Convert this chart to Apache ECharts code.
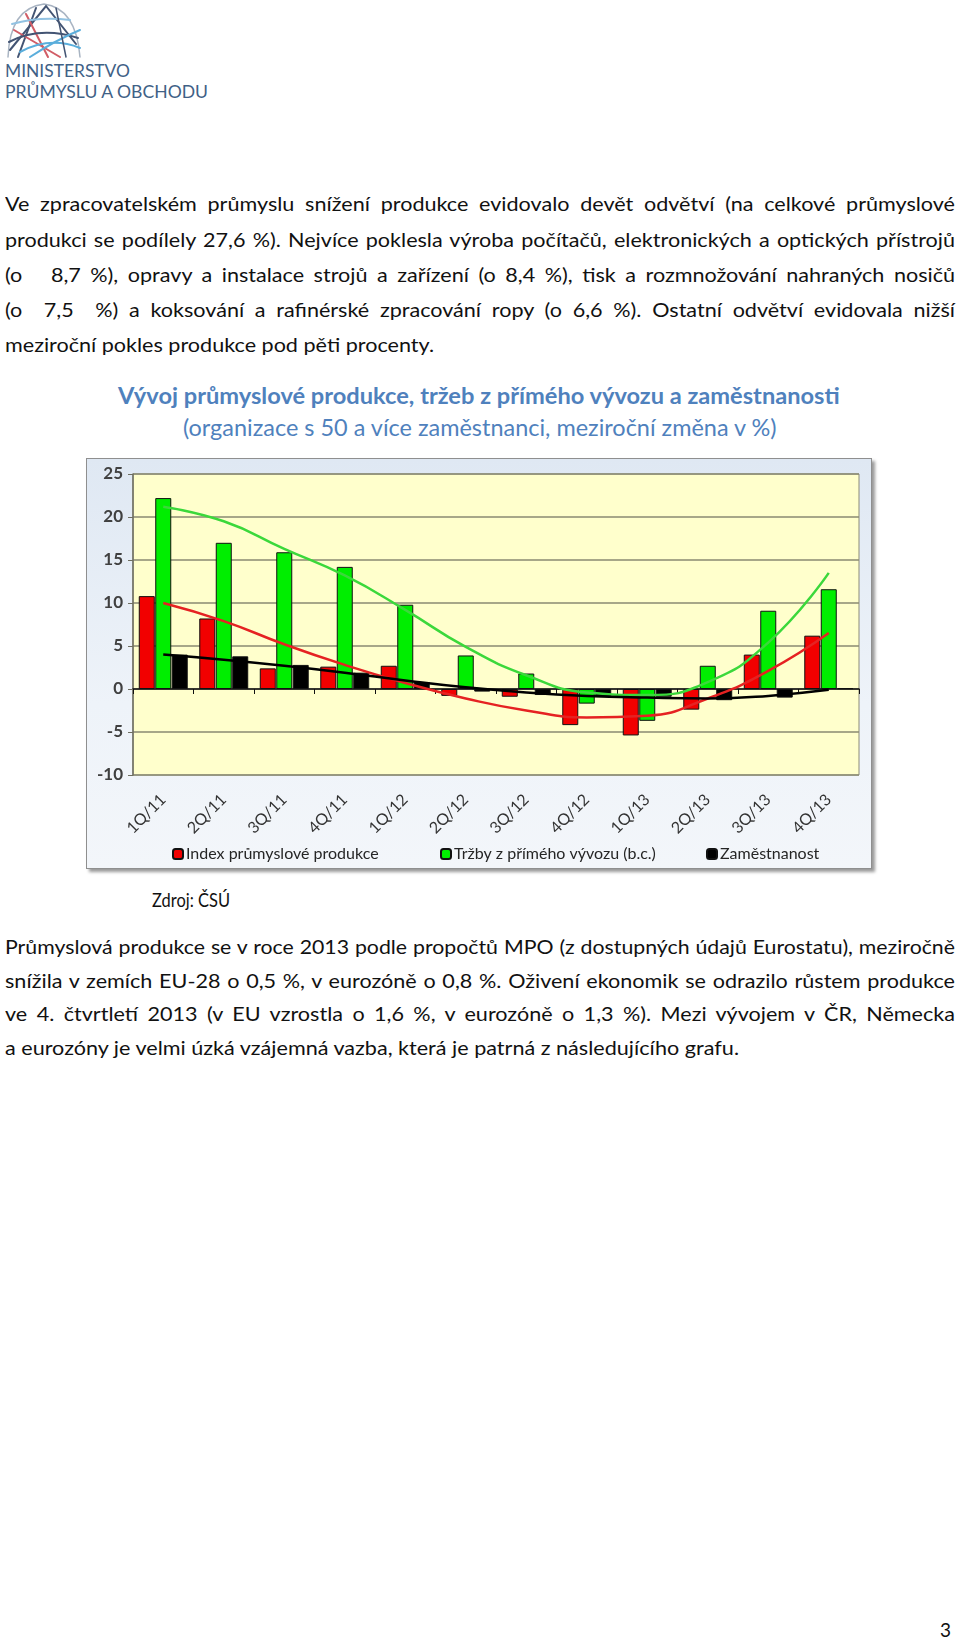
<!DOCTYPE html>
<html><head><meta charset="utf-8">
<script src="https://cdn.jsdelivr.net/npm/echarts@6/dist/echarts.min.js"></script>
<style>
body{margin:0;background:#fff;width:960px;height:1641px;position:relative;font-family:'Lato',sans-serif;color:#111;overflow:hidden;}
.ln{position:absolute;left:5px;white-space:nowrap;font-size:19px;line-height:24px;height:24px;transform-origin:0 50%;}
.j{width:950px;text-align:justify;text-align-last:justify;}
.title{position:absolute;white-space:nowrap;color:#4F81BD;font-family:'Lato',sans-serif;line-height:30px;}
#chartBox{position:absolute;left:86px;top:458px;width:786px;height:411px;border:1px solid #8f8f8f;box-sizing:border-box;
 background:linear-gradient(to bottom,#dfe8f3 0%,#eef3f9 60%,#f3f6fa 100%);box-shadow:3px 3px 3px #9a9a9a;}
#chart{position:absolute;left:0;top:0;width:786px;height:411px;}
</style></head>
<body>
<svg width="230" height="105" style="position:absolute;left:0;top:0">
 <g fill="none" stroke-width="2" stroke-linecap="round" opacity="0.85">
  <path d="M8,57 Q10,8 44,4 Q76,8 80,57" stroke="#9aa7b8" stroke-width="1.5"/>
  <path d="M10,50 L46,6 L76,44" stroke="#23375b"/>
  <path d="M18,57 L36,8" stroke="#23375b"/>
  <path d="M26,14 L48,57" stroke="#c9414c"/>
  <path d="M14,30 L60,57" stroke="#c9414c"/>
  <path d="M9,42 Q40,26 78,38" stroke="#23375b"/>
  <path d="M20,52 Q50,36 80,48" stroke="#3ea0d6"/>
  <path d="M30,57 Q56,40 80,30" stroke="#3ea0d6"/>
  <path d="M12,24 Q40,16 70,20" stroke="#7fb8dd"/>
  <path d="M56,8 L66,57" stroke="#23375b" stroke-width="1.5"/>
 </g>
 <text x="5" y="77" font-family="Lato" font-size="18" fill="#3F6186" textLength="125" lengthAdjust="spacingAndGlyphs">MINISTERSTVO</text>
 <text x="5" y="98" font-family="Lato" font-size="18" fill="#3F6186" textLength="203" lengthAdjust="spacingAndGlyphs">PRŮMYSLU A OBCHODU</text>
</svg>

<div class="ln j p1" style="top:192px">Ve zpracovatelském průmyslu snížení produkce evidovalo devět odvětví (na celkové průmyslové</div>
<div class="ln j p1" style="top:228px">produkci se podílely 27,6 %). Nejvíce poklesla výroba počítačů, elektronických a optických přístrojů</div>
<div class="ln j p1" style="top:263px">(o&nbsp;&nbsp; 8,7 %), opravy a instalace strojů a zařízení (o 8,4 %), tisk a rozmnožování nahraných nosičů</div>
<div class="ln j p1" style="top:298px">(o&nbsp; 7,5&nbsp; %) a koksování a rafinérské zpracování ropy (o 6,6 %). Ostatní odvětví evidovala nižší</div>
<div class="ln p1" id="p1last" style="top:333px">meziroční pokles produkce pod pěti procenty.</div>

<div class="title" id="t1" style="top:380px;font-size:21px;font-weight:700;">Vývoj průmyslové produkce, tržeb z přímého vývozu a zaměstnanosti</div>
<div class="title" id="t2" style="top:412px;font-size:21px;">(organizace s 50 a více zaměstnanci, meziroční změna v %)</div>

<div id="chartBox"><div id="chart"></div></div>

<div class="ln" id="zdroj" style="top:888px;left:152px">Zdroj: ČSÚ</div>

<div class="ln j p2" style="top:935px">Průmyslová produkce se v roce 2013 podle propočtů MPO (z dostupných údajů Eurostatu), meziročně</div>
<div class="ln j p2" style="top:969px">snížila v zemích EU-28 o 0,5 %, v eurozóně o 0,8 %. Oživení ekonomik se odrazilo růstem produkce</div>
<div class="ln j p2" style="top:1002px">ve 4. čtvrtletí 2013 (v EU vzrostla o 1,6 %, v eurozóně o 1,3 %). Mezi vývojem v ČR, Německa</div>
<div class="ln p2" id="p2last" style="top:1036px">a eurozóny je velmi úzká vzájemná vazba, která je patrná z následujícího grafu.</div>

<div class="ln" style="top:1618px;left:940px;font-size:19px">3</div>

<script>
const categories = ['1Q/11','2Q/11','3Q/11','4Q/11','1Q/12','2Q/12','3Q/12','4Q/12','1Q/13','2Q/13','3Q/13','4Q/13'];
const indexProdukce = [10.8, 8.2, 2.4, 2.6, 2.7, -0.8, -0.9, -4.2, -5.4, -2.4, 4.0, 6.2];
const trzbyVyvoz    = [22.2, 17.0, 15.9, 14.2, 9.8, 3.9, 1.8, -1.7, -3.7, 2.7, 9.1, 11.6];
const zamestnanost  = [4.0, 3.8, 2.8, 1.9, 0.8, -0.3, -0.7, -0.9, -0.9, -1.3, -1.0, 0.1];
const trendProdukce = [10.0, 7.9, 5.2, 2.8, 0.7, -1.1, -2.5, -3.3, -3.1, -1.1, 2.1, 6.5];
const trendVyvoz    = [21.2, 19.5, 16.3, 13.2, 9.2, 4.9, 1.6, -0.4, -0.7, 0.8, 5.4, 13.5];
const trendZamest   = [4.0, 3.4, 2.7, 1.9, 1.0, 0.2, -0.4, -0.8, -1.0, -1.1, -0.8, -0.1];
const seriesNames = ['Index průmyslové produkce', 'Tržby z přímého vývozu (b.c.)', 'Zaměstnanost'];
const yMin = -10, yMax = 25, yStep = 5;

// --- text fitting (layout only) ---
function naturalWidth(el) {
  el.style.transform = 'none';
  return el.getBoundingClientRect().width;
}
function fitSize(el, target) {
  const fs = parseFloat(getComputedStyle(el).fontSize);
  return fs * target / naturalWidth(el);
}
function scalePara(cls, lastId, target) {
  const last = document.getElementById(lastId);
  const s = target / naturalWidth(last);
  document.querySelectorAll('.' + cls).forEach(e => {
    let se = s;
    if (e.classList.contains('j')) {
      e.style.width = 'auto';
      const nw = naturalWidth(e);
      se = Math.min(s, 944 / nw);
      e.style.width = (950 / se) + 'px';
    }
    e.style.transform = 'scaleX(' + se + ')';
  });
}
function layoutText() {
  scalePara('p1', 'p1last', 429);
  scalePara('p2', 'p2last', 734);
  const z = document.getElementById('zdroj');
  z.style.transform = 'scaleX(' + (78 / naturalWidth(z)) + ')';
  [['t1', 722, 118], ['t2', 594, 183]].forEach(([id, w, left]) => {
    const el = document.getElementById(id);
    el.style.fontSize = '21px';
    el.style.left = left + 'px';
    el.style.fontSize = fitSize(el, w) + 'px';
  });
}
layoutText();
if (document.fonts && document.fonts.ready) document.fonts.ready.then(layoutText);

const chart = echarts.init(document.getElementById('chart'), null, {renderer: 'canvas'});
function legendAt(left, name) {
  return {left: left, top: 382, data: [name], itemWidth: 10, itemHeight: 10, itemGap: 0,
    textStyle: {fontFamily: 'Lato', fontSize: 16, color: '#262626', padding: [0, 0, 0, -2]}};
}
function bar(name, data, color) {
  return {name: name, type: 'bar', data: data, barWidth: 16, barGap: '3%', xAxisIndex: 0,
    itemStyle: {color: color, borderColor: '#111', borderWidth: 1}, z: 2};
}
function trend(data, color, w) {
  return {type: 'line', data: data, smooth: 0.5, symbol: 'none', xAxisIndex: 0,
    lineStyle: {color: color, width: w}, z: 5, silent: true};
}
chart.setOption({
  animation: false,
  grid: {left: 46, right: 14, top: 15, bottom: 95, show: true, backgroundColor: '#FFFFCC', borderColor: '#8a8a78', borderWidth: 1},
  legend: [legendAt(80, seriesNames[0]), legendAt(348, seriesNames[1]), legendAt(614, seriesNames[2])],
  xAxis: [
    {type: 'category', data: categories, position: 'bottom', boundaryGap: true,
     axisLine: {show: false, onZero: false}, axisTick: {show: false},
     axisLabel: {rotate: 45, margin: 22, interval: 0, fontFamily: 'Lato', fontSize: 16, color: '#333'}},
    {type: 'category', data: categories, position: 'top', boundaryGap: true,
     axisLine: {show: true, onZero: true, lineStyle: {color: '#111', width: 1.5}},
     axisTick: {show: true, inside: true, length: 5, lineStyle: {color: '#111'}},
     axisLabel: {show: false}}
  ],
  yAxis: {type: 'value', min: yMin, max: yMax, interval: yStep,
    axisLine: {show: true, lineStyle: {color: '#6e6e60', width: 1.5}},
    axisTick: {show: true, length: 5, lineStyle: {color: '#6e6e60'}},
    axisLabel: {fontFamily: 'Lato', fontSize: 17, fontWeight: 'bold', color: '#404040', margin: 10},
    splitLine: {show: true, lineStyle: {color: '#8a8a72', width: 1.5}}},
  series: [
    bar(seriesNames[0], indexProdukce, '#F20000'),
    bar(seriesNames[1], trzbyVyvoz, '#00EE00'),
    bar(seriesNames[2], zamestnanost, '#000000'),
    trend(trendVyvoz, '#3BD83B', 2.5),
    trend(trendProdukce, '#E52222', 2.5),
    trend(trendZamest, '#000000', 2.5)
  ]
});
</script>
</body></html>
